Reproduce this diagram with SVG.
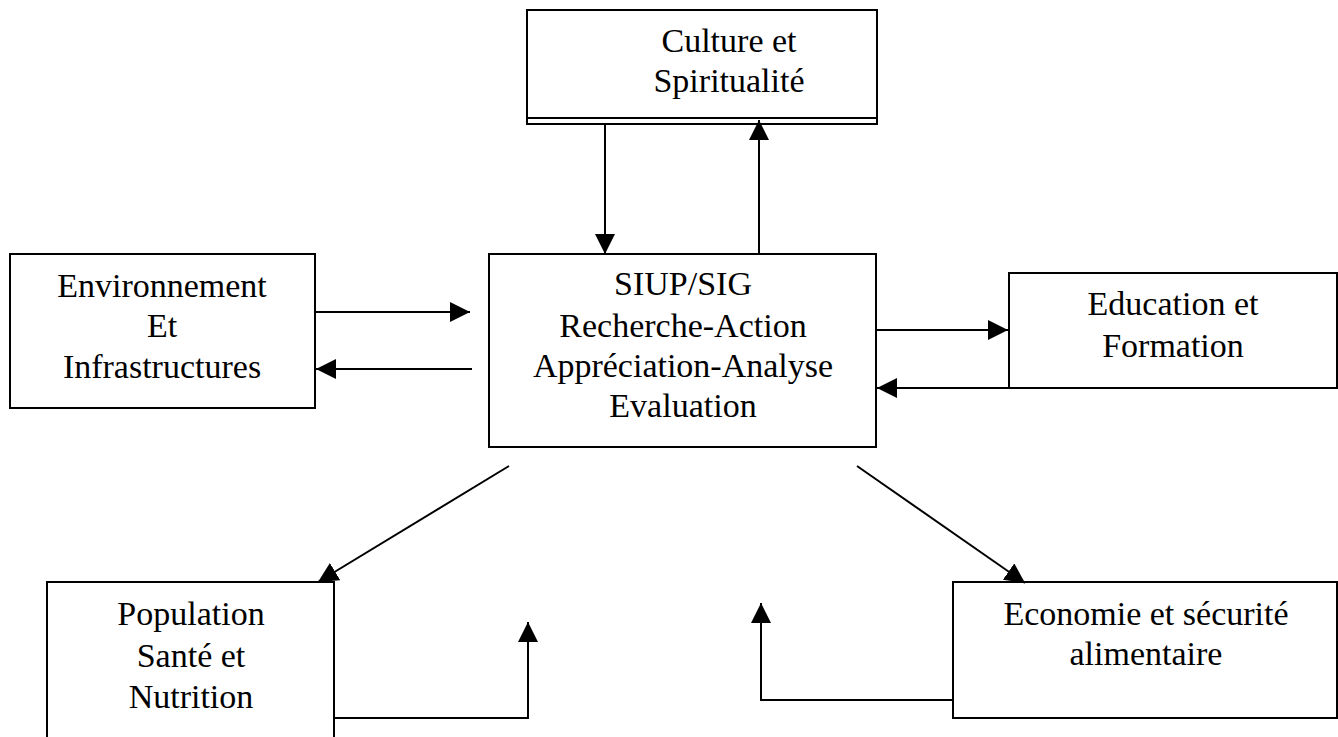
<svg xmlns="http://www.w3.org/2000/svg" width="1338" height="737" viewBox="0 0 1338 737">
<style>
.box{fill:#fff;stroke:#000;stroke-width:2}
.t{font-family:"Liberation Serif","Times New Roman",serif;font-size:34px;fill:#000;text-anchor:middle}
.c{fill:none;stroke:#000;stroke-width:2}
</style>
<defs>
<marker id="ah" markerUnits="userSpaceOnUse" markerWidth="20" markerHeight="20" refX="20" refY="10" orient="auto" viewBox="0 0 20 20">
<path d="M0,0 L20,10 L0,20 z" fill="#000"/>
</marker>
</defs>
<rect width="1338" height="737" fill="#fff"/>
<g id="culture">
<rect class="box" x="527" y="10" width="350" height="114"/>
<line class="c" x1="527" y1="118" x2="877" y2="118"/>
<text class="t" x="729" y="52">Culture et</text>
<text class="t" x="729" y="92">Spiritualité</text>
</g>
<g id="siup">
<rect class="box" x="489" y="254" width="387" height="193"/>
<text class="t" x="683" y="295">SIUP/SIG</text>
<text class="t" x="683" y="337">Recherche-Action</text>
<text class="t" x="683" y="377">Appréciation-Analyse</text>
<text class="t" x="683" y="417">Evaluation</text>
</g>
<g id="environnement">
<rect class="box" x="10" y="254" width="305" height="154"/>
<text class="t" x="162" y="297">Environnement</text>
<text class="t" x="162" y="337">Et</text>
<text class="t" x="162" y="378">Infrastructures</text>
</g>
<g id="education">
<rect class="box" x="1009" y="273" width="328" height="115"/>
<text class="t" x="1173" y="315">Education et</text>
<text class="t" x="1173" y="357">Formation</text>
</g>
<g id="population">
<rect class="box" x="47" y="582" width="287" height="170"/>
<text class="t" x="191" y="625">Population</text>
<text class="t" x="191" y="667">Santé et</text>
<text class="t" x="191" y="708">Nutrition</text>
</g>
<g id="economie">
<rect class="box" x="953" y="582" width="384" height="136"/>
<text class="t" x="1146" y="625">Economie et sécurité</text>
<text class="t" x="1146" y="665">alimentaire</text>
</g>
<g id="connectors">
<line class="c" x1="605" y1="124" x2="605" y2="254" marker-end="url(#ah)"/>
<line class="c" x1="759" y1="254" x2="759" y2="120" marker-end="url(#ah)"/>
<line class="c" x1="315" y1="312" x2="470" y2="312" marker-end="url(#ah)"/>
<line class="c" x1="472" y1="369" x2="316" y2="369" marker-end="url(#ah)"/>
<line class="c" x1="876" y1="330" x2="1008" y2="330" marker-end="url(#ah)"/>
<line class="c" x1="1009" y1="388" x2="877" y2="388" marker-end="url(#ah)"/>
<line class="c" x1="509" y1="466" x2="318" y2="582" marker-end="url(#ah)"/>
<line class="c" x1="857" y1="466" x2="1025" y2="583" marker-end="url(#ah)"/>
<polyline class="c" points="334,718 528,718 528,622" marker-end="url(#ah)"/>
<polyline class="c" points="953,700 761,700 761,603" marker-end="url(#ah)"/>
</g>
</svg>
